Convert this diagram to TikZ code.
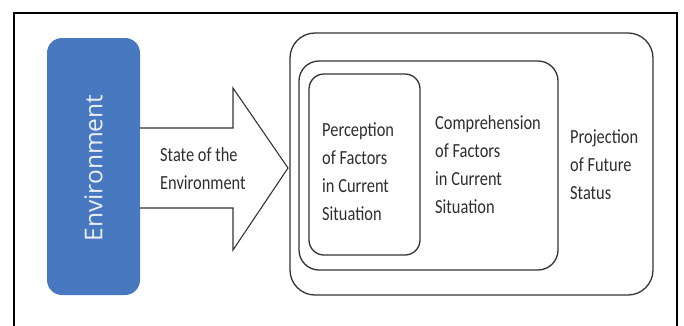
\documentclass[tikz,border=0pt]{standalone}
\usepackage{fontspec}
\setmainfont[FakeStretch=0.82]{Carlito}
\newfontfamily\envfont{Open Sans}
\definecolor{envblue}{HTML}{4878C0}
\definecolor{linegray}{HTML}{333333}
\begin{document}
\begin{tikzpicture}[x=1pt,y=-1pt,
  frame/.style={draw=black,line width=1.4pt},
  envbox/.style={draw=none,fill=envblue,rounded corners=15pt,minimum width=93pt,minimum height=257pt,inner sep=0pt},
  envtext/.style={text=white!88!envblue,font=\envfont\fontsize{24.5}{30}\selectfont,rotate=90},
  ring/.style={draw=linegray,line width=1.3pt},
  lbl/.style={align=left,anchor=west,inner sep=0pt,font=\fontsize{20}{28}\selectfont,text=black!82}
]
\useasboundingbox (0,0) rectangle (684,325);
% outer frame (bottom edge lies below the picture)
\draw[frame] (14,330) -- (14,13) -- (677,13) -- (677,330);
% environment box
\node[envbox] (env) at (93.5,166.5) {};
\node[envtext] (envlbl) at (93.5,168) {Environment};
% big arrow
\coordinate (a1) at (140,128);
\coordinate (a2) at (233,128);
\coordinate (a3) at (233,88);
\coordinate (tip) at (288,168);
\coordinate (a5) at (233,250);
\coordinate (a6) at (233,208);
\coordinate (a7) at (140,208);
\draw[ring,line width=1.1pt,fill=white,line join=miter] (a1) -- (a2) -- (a3) -- (tip) -- (a5) -- (a6) -- (a7);
\node[lbl] (state) at (160,169) {State of the\\Environment};
% nested boxes
\draw[ring,rounded corners=25pt] (290,33) rectangle (653,295);
\draw[ring,rounded corners=20pt] (299,61) rectangle (558,270);
\draw[ring,rounded corners=15pt] (309,74) rectangle (420,255);
\node[lbl] (perc) at (322,172) {Perception\\of Factors\\in Current\\Situation};
\node[lbl] (comp) at (435,165) {Comprehension\\of Factors\\in Current\\Situation};
\node[lbl] (proj) at (570,165) {Projection\\of Future\\Status};
\end{tikzpicture}
\end{document}
